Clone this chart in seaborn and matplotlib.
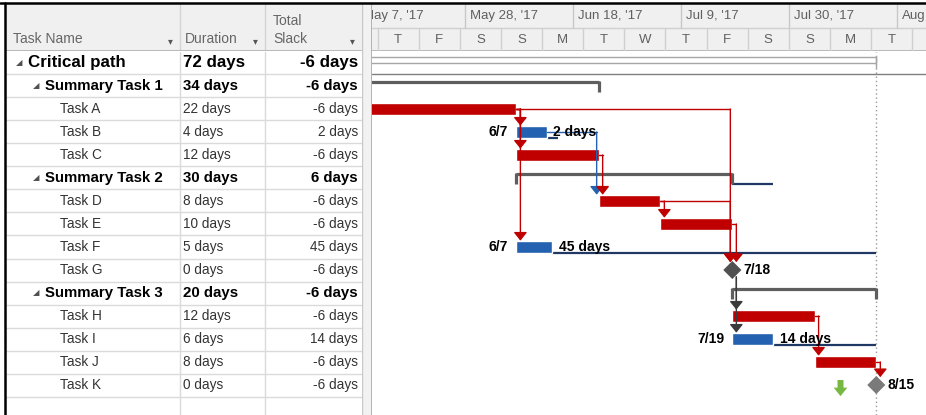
import numpy as np
import pandas as pd
import matplotlib
matplotlib.use('Agg')
import matplotlib.pyplot as plt
import matplotlib.dates as mdates
from matplotlib.path import Path
import seaborn as sns

sns.set_style('white')
plt.rcParams['font.family'] = ['Liberation Sans', 'DejaVu Sans']

# ---- data read from the MS Project view ----
tasks = ['Critical path', 'Summary Task 1', 'Task A', 'Task B', 'Task C',
         'Summary Task 2', 'Task D', 'Task E', 'Task F', 'Task G',
         'Summary Task 3', 'Task H', 'Task I', 'Task J', 'Task K']
levels = [0, 1, 2, 2, 2, 1, 2, 2, 2, 2, 1, 2, 2, 2, 2]
durations = ['72 days', '34 days', '22 days', '4 days', '12 days', '30 days', '8 days',
             '10 days', '5 days', '0 days', '20 days', '12 days', '6 days', '8 days', '0 days']
total_slack = ['-6 days', '-6 days', '-6 days', '2 days', '-6 days', '6 days', '-6 days',
               '-6 days', '45 days', '-6 days', '-6 days', '-6 days', '14 days', '-6 days', '-6 days']
kinds = ['project', 'summary', 'critical', 'normal', 'critical', 'summary', 'critical',
         'critical', 'normal', 'milestone', 'summary', 'critical', 'normal', 'critical', 'milestone']
# start / finish (finish = midnight after last working day)
starts = ['2017-05-08', '2017-05-08', '2017-05-08', '2017-06-07', '2017-06-07', '2017-06-07',
          '2017-06-23', '2017-07-05', '2017-06-07', '2017-07-19', '2017-07-19', '2017-07-19',
          '2017-07-19', '2017-08-04', '2017-08-16']
finishes = ['2017-08-16', '2017-06-23', '2017-06-07', '2017-06-13', '2017-06-23', '2017-07-19',
            '2017-07-05', '2017-07-19', '2017-06-14', '2017-07-19', '2017-08-16', '2017-08-04',
            '2017-07-27', '2017-08-16', '2017-08-16']
# free slack lines (task -> end of slack line)
slack_tasks = ['Task B', 'Summary Task 2', 'Task F', 'Task I']
slack_ends = ['2017-06-15', '2017-07-27', '2017-08-16', '2017-08-16']
# bar labels
left_label_tasks = ['Task B', 'Task F', 'Task I']
left_labels = ['6/7', '6/7', '7/19']
right_label_tasks = ['Task B', 'Task F', 'Task G', 'Task I', 'Task K']
right_labels = ['2 days', '45 days', '7/18', '14 days', '8/15']
# dependencies (finish -> start)
link_from = ['Task A', 'Task A', 'Task A', 'Task A', 'Task B', 'Task C', 'Task D', 'Task D',
             'Task E', 'Task G', 'Task G', 'Task H', 'Task J']
link_to = ['Task B', 'Task C', 'Task F', 'Task G', 'Task D', 'Task D', 'Task E', 'Task G',
           'Task G', 'Task H', 'Task I', 'Task J', 'Task K']
deadline_task = 'Task K'
deadline = '2017-08-09'
project_finish = '2017-08-16'
# timescale
top_tier_dates = ['2017-05-07', '2017-05-28', '2017-06-18', '2017-07-09', '2017-07-30', '2017-08-20']
top_tier_labels = ["May 7, '17", "May 28, '17", "Jun 18, '17", "Jul 9, '17", "Jul 30, '17", "Aug"]
bottom_tier_labels = ['T', 'F', 'S', 'S', 'M', 'T', 'W', 'T', 'F', 'S', 'S', 'M', 'T']
bottom_tier_first = '2017-05-11'
view_start = '2017-05-09 22:00'
view_end = '2017-08-25 16:00'

RED = '#C00000'
BLUE = '#2461B0'
NAVY = '#1F3864'
SUMGREY = '#5E5E5E'
GRID = '#DADADA'
HEAD_BG = '#F0F0F0'

df = pd.DataFrame({'task': tasks, 'level': levels, 'kind': kinds,
                   'start': mdates.date2num(pd.to_datetime(starts)),
                   'finish': mdates.date2num(pd.to_datetime(finishes))})
df['row'] = np.arange(len(df))
pos = df.set_index('task')

# ---- figure layout in pixels ----
W, H = 926, 415
TOP, HEAD_Y = 4, 51.5
ROW_H = 23.0


def box(x0, y0, x1, y1):
    return [x0 / W, 1 - y1 / H, (x1 - x0) / W, (y1 - y0) / H]


fig = plt.figure(figsize=(W / 100, H / 100), dpi=100)
fig.patch.set_facecolor('white')
row_bottom = -0.5 + (H - HEAD_Y) / ROW_H

ax_th = fig.add_axes(box(5, TOP, 362, HEAD_Y))
ax_t = fig.add_axes(box(5, HEAD_Y, 362, H))
ax_sh = fig.add_axes(box(372, TOP, W, HEAD_Y))
ax_g = fig.add_axes(box(372, HEAD_Y, W, H))
ax_sp = fig.add_axes(box(362, TOP, 372, H))

for a in (ax_th, ax_t, ax_sh, ax_g, ax_sp):
    a.set_xticks([])
    a.set_yticks([])
    for s in a.spines.values():
        s.set_visible(False)

x0, x1 = mdates.date2num(pd.Timestamp(view_start)), mdates.date2num(pd.Timestamp(view_end))
day_px = (W - 372) / (x1 - x0)

# ---- splitter ----
ax_sp.set_facecolor('#F2F2F2')
ax_sp.axvline(0.02, color='#C8C8C8', lw=1)
ax_sp.axvline(0.97, color='#A8A8A8', lw=1.2)

# ---- table header ----
ax_th.set_facecolor(HEAD_BG)
ax_th.set_xlim(5, 362)
ax_th.set_ylim(HEAD_Y, TOP)
for xc in (180, 265):
    ax_th.axvline(xc, color='#D4D4D4', lw=1)
ax_th.axhline(HEAD_Y - 0.5, color='#B0B0B0', lw=1.2)
hdr = dict(color='#666666', fontsize=10, va='center')
ax_th.text(13, 39, 'Task Name', **hdr)
ax_th.text(185, 39, 'Duration', **hdr)
ax_th.text(273, 21, 'Total', **hdr)
ax_th.text(273, 39, 'Slack', **hdr)
for xc in (170, 255, 352):
    ax_th.text(xc, 41, '▾', color='#555555', fontsize=7, ha='center', va='center',
               family='DejaVu Sans')

# ---- table body ----
ax_t.set_xlim(5, 362)
ax_t.set_ylim(row_bottom, -0.5)
for r in np.arange(0.5, row_bottom, 1):
    ax_t.axhline(r, color=GRID, lw=1)
for xc in (180, 265):
    ax_t.axvline(xc, color=GRID, lw=1)

name_x = {0: 28, 1: 45, 2: 60}
for _, t in df.iterrows():
    r = t['row']
    if t['level'] == 0:
        style = dict(fontsize=12.2, fontweight='bold', color='black')
    elif t['level'] == 1:
        style = dict(fontsize=10.8, fontweight='bold', color='black')
    else:
        style = dict(fontsize=9.8, color='#333333')
    if t['level'] < 2:
        ax_t.text(name_x[t['level']] - 12, r, '◢', fontsize=6, color='#505050',
                  va='center', ha='left', family='DejaVu Sans')
    ax_t.text(name_x[t['level']], r, t['task'], va='center', ha='left', **style)
    ax_t.text(183, r, durations[r], va='center', ha='left', **style)
    ax_t.text(358, r, total_slack[r], va='center', ha='right', **style)

# ---- timescale header ----
ax_sh.set_facecolor(HEAD_BG)
ax_sh.set_xlim(x0, x1)
ax_sh.set_ylim(HEAD_Y, TOP)
ax_sh.axhline(28, color='#D0D0D0', lw=1)
ax_sh.axhline(HEAD_Y - 0.5, color='#B0B0B0', lw=1.2)
for d, lab in zip(top_tier_dates, top_tier_labels):
    xd = mdates.date2num(pd.Timestamp(d))
    ax_sh.vlines(xd, TOP, 28, color='#C8C8C8', lw=1)
    ax_sh.text(xd + 5.5 / day_px, 16, lab, color='#606060', fontsize=9.5,
               ha='left', va='center', clip_on=True)
bt = mdates.date2num(pd.date_range(bottom_tier_first, periods=len(bottom_tier_labels) + 1, freq='8D'))
ax_sh.vlines(bt, 28, HEAD_Y, color='#D0D0D0', lw=1)
for xd, lab in zip(bt[:-1] + 4, bottom_tier_labels):
    ax_sh.text(xd, 40, lab, color='#606060', fontsize=9.5, ha='center', va='center', clip_on=True)

# ---- gantt ----
ax_g.set_xlim(x0, x1)
ax_g.set_ylim(row_bottom, -0.5)
BAR_H = 0.55
ax_g.axhline(0.5, color='#7F7F7F', lw=1)
ax_g.axvline(mdates.date2num(pd.Timestamp(project_finish)), color='#9A9A9A', lw=1,
             linestyle=(0, (1, 2)), zorder=1)

bars = df[df['kind'].isin(['critical', 'normal'])]
for kind, col in (('critical', RED), ('normal', BLUE)):
    sub = bars[bars['kind'] == kind]
    ax_g.barh(sub['row'], sub['finish'] - sub['start'], left=sub['start'],
              height=BAR_H, color=col, zorder=3)

# summary bars: thin top strip + end ticks
for _, t in df[df['kind'] == 'summary'].iterrows():
    r = t['row']
    ax_g.hlines(r - 0.18, t['start'], t['finish'], color=SUMGREY, lw=2.3, zorder=3)
    ax_g.vlines([t['start'], t['finish']], r - 0.23, r + 0.28, color=SUMGREY, lw=2.3, zorder=3)

# project summary bar (hollow)
p = df[df['kind'] == 'project'].iloc[0]
ax_g.barh(p['row'] - 0.13, p['finish'] - p['start'], left=p['start'], height=0.26,
          facecolor='white', edgecolor='#A6A6A6', lw=1, zorder=3)
ax_g.vlines(p['finish'], p['row'] - 0.3, p['row'] + 0.2, color='#A6A6A6', lw=1, zorder=3)

# free slack lines
for tname, se in zip(slack_tasks, slack_ends):
    t = pos.loc[tname]
    ax_g.hlines(t['row'] + 0.27, t['finish'], mdates.date2num(pd.Timestamp(se)),
                color=NAVY, lw=1.6, zorder=2)

# milestones
ms = df[df['kind'] == 'milestone']
sns.scatterplot(x=ms['finish'].values, y=ms['row'].values, marker='D', s=85,
                color=['#505050', '#7A7A7A'], ax=ax_g, zorder=5, linewidth=0, legend=False)

# deadline marker (green arrow)
arrow_marker = Path([(-0.35, 1), (0.35, 1), (0.35, 0.1), (0.8, 0.1), (0, -0.9),
                     (-0.8, 0.1), (-0.35, 0.1), (-0.35, 1)])
ax_g.scatter(mdates.date2num(pd.Timestamp(deadline)), pos.loc[deadline_task, 'row'] + 0.12,
             marker=arrow_marker, s=150, color='#77B843', zorder=5, linewidths=0)

# links
for a, b in zip(link_from, link_to):
    ta, tb = pos.loc[a], pos.loc[b]
    if ta['kind'] == 'milestone':
        col = '#3A3A3A'
    elif ta['kind'] == 'critical':
        col = RED
    else:
        col = BLUE
    xv = max(ta['finish'] + 4 / day_px, tb['start'] - 2 / day_px)
    ya = ta['row'] + (0.3 if ta['kind'] == 'milestone' else 0)
    tip = tb['row'] - (0.34 if tb['kind'] == 'milestone' else BAR_H / 2)
    if ta['kind'] != 'milestone':
        ax_g.plot([ta['finish'], xv], [ya, ya], color=col, lw=1, zorder=4)
    ax_g.annotate('', xy=(xv, tip), xytext=(xv, ya),
                  arrowprops=dict(arrowstyle='-|>,head_length=0.5,head_width=0.4',
                                  color=col, lw=1, shrinkA=0, shrinkB=0, mutation_scale=10),
                  zorder=4)

# bar labels
for tname, lab in zip(left_label_tasks, left_labels):
    t = pos.loc[tname]
    ax_g.annotate(lab, xy=(t['start'], t['row']), xytext=(-6, 0), textcoords='offset points',
                  ha='right', va='center', fontsize=10, fontweight='bold', color='black')
for tname, lab in zip(right_label_tasks, right_labels):
    t = pos.loc[tname]
    off = 8 if t['kind'] == 'milestone' else 4.5
    ax_g.annotate(lab, xy=(t['finish'], t['row']), xytext=(off, 0), textcoords='offset points',
                  ha='left', va='center', fontsize=10, fontweight='bold', color='black',
                  zorder=6, annotation_clip=False)

# outer black frame (top + left)
fig.add_artist(plt.Line2D([0, 1], [1 - 3 / H, 1 - 3 / H], color='black', lw=1.8))
fig.add_artist(plt.Line2D([5 / W, 5 / W], [0, 1 - 3 / H], color='black', lw=1.8))

fig.savefig('out.png', dpi=100)
